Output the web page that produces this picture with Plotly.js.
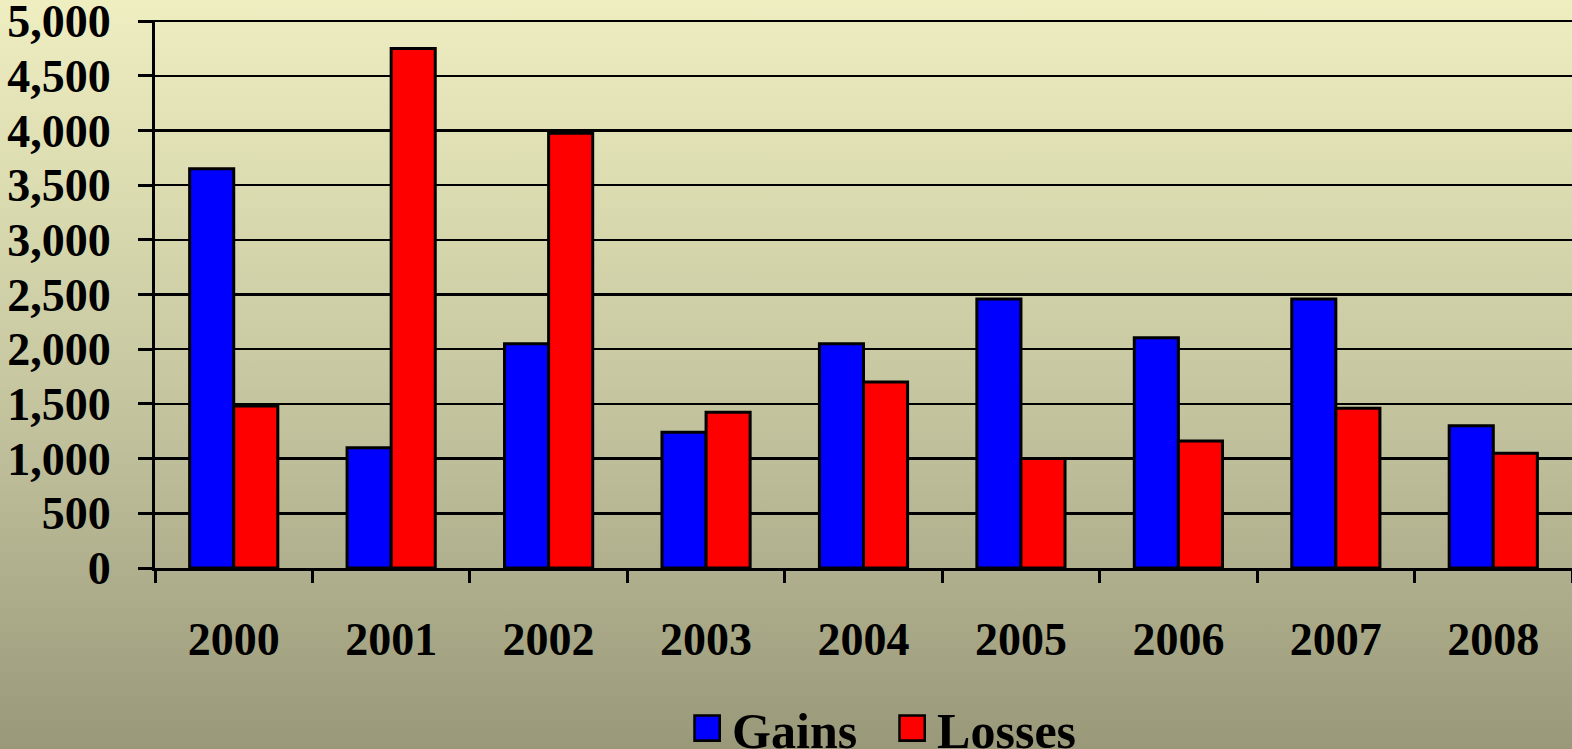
<!DOCTYPE html>
<html>
<head>
<meta charset="utf-8">
<script src="https://cdn.plot.ly/plotly-3.0.1.min.js"></script>
<style>
html, body { margin: 0; padding: 0; }
#chart {
  width: 1572px; height: 749px;
  background: linear-gradient(to bottom, #efeec1 0%, #d8d8ae 30%, #bfbf9b 60%, #999879 100%);
}
</style>
</head>
<body>
<div id="chart"></div>
<script>
const years = ['2000','2001','2002','2003','2004','2005','2006','2007','2008'];
const gains = [3650, 1100, 2050, 1240, 2050, 2460, 2105, 2460, 1300];
const losses = [1480, 4750, 3975, 1425, 1700, 1000, 1160, 1460, 1050];
const yTicks = [0, 500, 1000, 1500, 2000, 2500, 3000, 3500, 4000, 4500, 5000];

const fontFam = '"Liberation Serif", "Times New Roman", serif';

const traces = [
  { type: 'bar', name: 'Gains', x: years, y: gains,
    marker: { color: '#0000ff', line: { color: '#000000', width: 3 } } },
  { type: 'bar', name: 'Losses', x: years, y: losses,
    marker: { color: '#ff0000', line: { color: '#000000', width: 3 } } }
];

const layout = {
  width: 1572, height: 749,
  paper_bgcolor: 'rgba(0,0,0,0)',
  plot_bgcolor: 'rgba(0,0,0,0)',
  margin: { l: 155, r: 0, t: 20, b: 181 },
  barmode: 'group',
  bargap: 0.44,
  bargroupgap: 0,
  font: { family: fontFam, color: '#000000' },
  showlegend: true,
  legend: {
    orientation: 'h',
    xref: 'paper', x: 0.372, xanchor: 'left',
    yref: 'container', y: 0.028, yanchor: 'middle',
    font: { family: fontFam, size: 50, color: '#000000', weight: 'bold' },
    bgcolor: 'rgba(0,0,0,0)',
    itemwidth: 40,
    entrywidth: 150, entrywidthmode: 'pixels',
    traceorder: 'normal'
  },
  xaxis: {
    type: 'category',
    showgrid: false,
    showline: true, linecolor: '#000000', linewidth: 3,
    ticks: 'outside', tickson: 'boundaries', ticklen: 12, tickwidth: 3, tickcolor: '#000000',
    tickfont: { family: fontFam, size: 46, color: '#000000', weight: 'bold' },
    ticklabelstandoff: 29
  },
  yaxis: {
    range: [0, 5010],
    tickvals: yTicks,
    tickformat: ',',
    ticklabeloverflow: 'allow',
    showgrid: true, gridcolor: '#000000', gridwidth: 2.5,
    zeroline: false,
    showline: true, linecolor: '#000000', linewidth: 3,
    ticks: 'outside', ticklen: 14, tickwidth: 3, tickcolor: '#000000',
    tickfont: { family: fontFam, size: 46, color: '#000000', weight: 'bold' },
    ticklabelstandoff: 18
  }
};

Plotly.newPlot('chart', traces, layout, { displayModeBar: false, staticPlot: true }).then(function (gd) {
  gd.querySelectorAll('.legend .legendpoints path').forEach(function (p) {
    const t = p.getAttribute('transform') || '';
    p.setAttribute('transform', t + ' scale(2.1)');
    p.style.strokeWidth = '1.2px';
  });
});
</script>
</body>
</html>
